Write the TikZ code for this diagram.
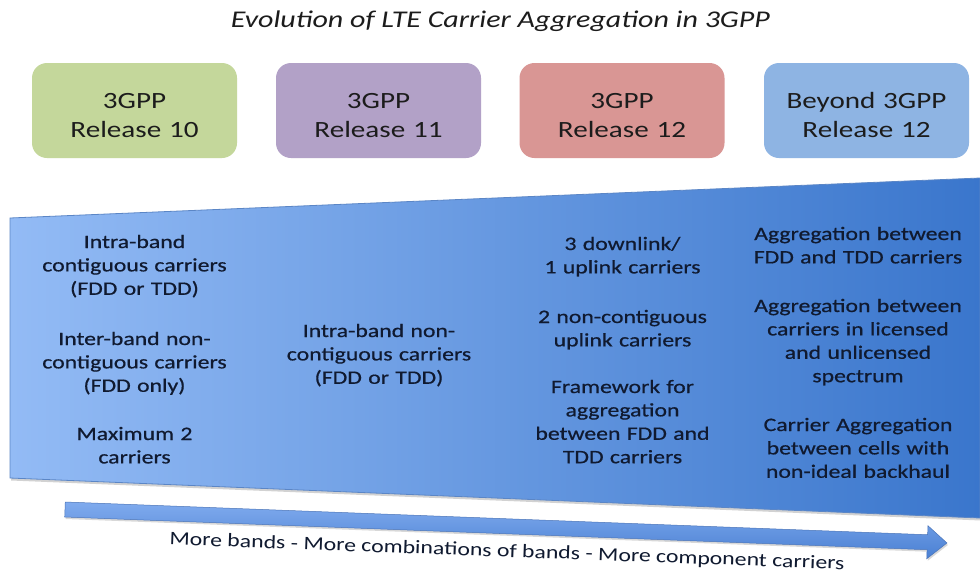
\documentclass[tikz,border=0pt]{standalone}
\usepackage{fontspec}
\setmainfont{Carlito}[FakeStretch=1.25]
\newfontfamily\itemfont{Carlito}[FakeStretch=1.25, FakeBold=0.6]
\usetikzlibrary{shadows}
\definecolor{relA}{HTML}{C4D79B}
\definecolor{relB}{HTML}{B2A1C7}
\definecolor{relC}{HTML}{D99694}
\definecolor{relD}{HTML}{8EB4E3}
\definecolor{shL}{HTML}{93BBF5}
\definecolor{shR}{HTML}{3A76CC}
\definecolor{shEdge}{HTML}{5B86C6}
\definecolor{arL}{HTML}{80ABEE}
\definecolor{arD}{HTML}{4A80D3}
\definecolor{arEdge}{HTML}{4A74B8}
\definecolor{boxtext}{HTML}{1C1C1C}
\definecolor{itemtext}{HTML}{101A30}
\begin{document}
\begin{tikzpicture}[x=1pt,y=-1pt,
  relbox/.style={rounded corners=15pt, minimum width=205pt, minimum height=95pt, inner sep=0pt},
  boxtxt/.style={anchor=base, align=center, text width=220pt, inner sep=0pt,
    font=\fontsize{23.3}{29}\selectfont, text=boxtext},
  item/.style={anchor=base, align=center, text width=230pt, inner sep=0pt,
    font=\itemfont\fontsize{19}{23.4}\selectfont, text=itemtext}]
\useasboundingbox[fill=white] (0,0) rectangle (980,574);

% title
\node[anchor=base, inner sep=0pt, font=\fontsize{24}{28}\selectfont\itshape, text=boxtext]
  (title) at (500.5,27) {Evolution of LTE Carrier Aggregation in 3GPP};

% release boxes
\node[relbox, fill=relA] (r10) at (134.5,110.5) {};
\node[relbox, fill=relB] (r11) at (378.5,110.5) {};
\node[relbox, fill=relC] (r12) at (622,110.5) {};
\node[relbox, fill=relD] (rb12) at (866.5,110.5) {};
\node[boxtxt] (t10) at (134.5,108) {3GPP\\Release 10};
\node[boxtxt] (t11) at (378.5,108) {3GPP\\Release 11};
\node[boxtxt] (t12) at (622,108) {3GPP\\Release 12};
\node[boxtxt] (tb12) at (866.5,108) {Beyond 3GPP\\Release 12};

% widening band
\shade[left color=shL, right color=shR, draw=shEdge, line width=0.8pt,
  drop shadow={opacity=0.35, shadow xshift=1pt, shadow yshift=-2.5pt}]
  (10,218) -- (980,178) -- (980,518) -- (10,478) -- cycle;

% column 1
\node[item] (c1a) at (134.5,248) {Intra-band\\contiguous carriers\\(FDD or TDD)};
\node[item] (c1b) at (134.5,345) {Inter-band non-\\contiguous carriers\\(FDD only)};
\node[item] (c1c) at (134.5,440) {Maximum 2\\carriers};
% column 2
\node[item] (c2a) at (379,337) {Intra-band non-\\contiguous carriers\\(FDD or TDD)};
% column 3
\node[item] (c3a) at (622.5,250) {3 downlink/\\1 uplink carriers};
\node[item] (c3b) at (622.5,323) {2 non-contiguous\\uplink carriers};
\node[item] (c3c) at (622.5,393) {Framework for\\aggregation\\between FDD and\\TDD carriers};
% column 4
\node[item] (c4a) at (858,240) {Aggregation between\\FDD and TDD carriers};
\node[item] (c4b) at (858,312) {Aggregation between\\carriers in licensed\\and unlicensed\\spectrum};
\node[item] (c4c) at (858,431) {Carrier Aggregation\\between cells with\\non-ideal backhaul};

% long arrow
\begin{scope}[shift={(65,509.5)}, rotate=-2.175]
\shade[top color=arL, bottom color=arD, draw=arEdge, line width=0.5pt,
  drop shadow={opacity=0.3, shadow xshift=1pt, shadow yshift=-2pt}]
  (0,-7.5) -- (863,-7.5) -- (863,-16.5) -- (882.6,0) -- (863,16.5) -- (863,7.5) -- (0,7.5) -- cycle;
\end{scope}
\node[inner sep=0pt, rotate=-2.1, font=\fontsize{19}{23}\selectfont, text=itemtext]
  (caption) at (507,552) {More bands - More combinations of bands - More component carriers};
\end{tikzpicture}
\end{document}
